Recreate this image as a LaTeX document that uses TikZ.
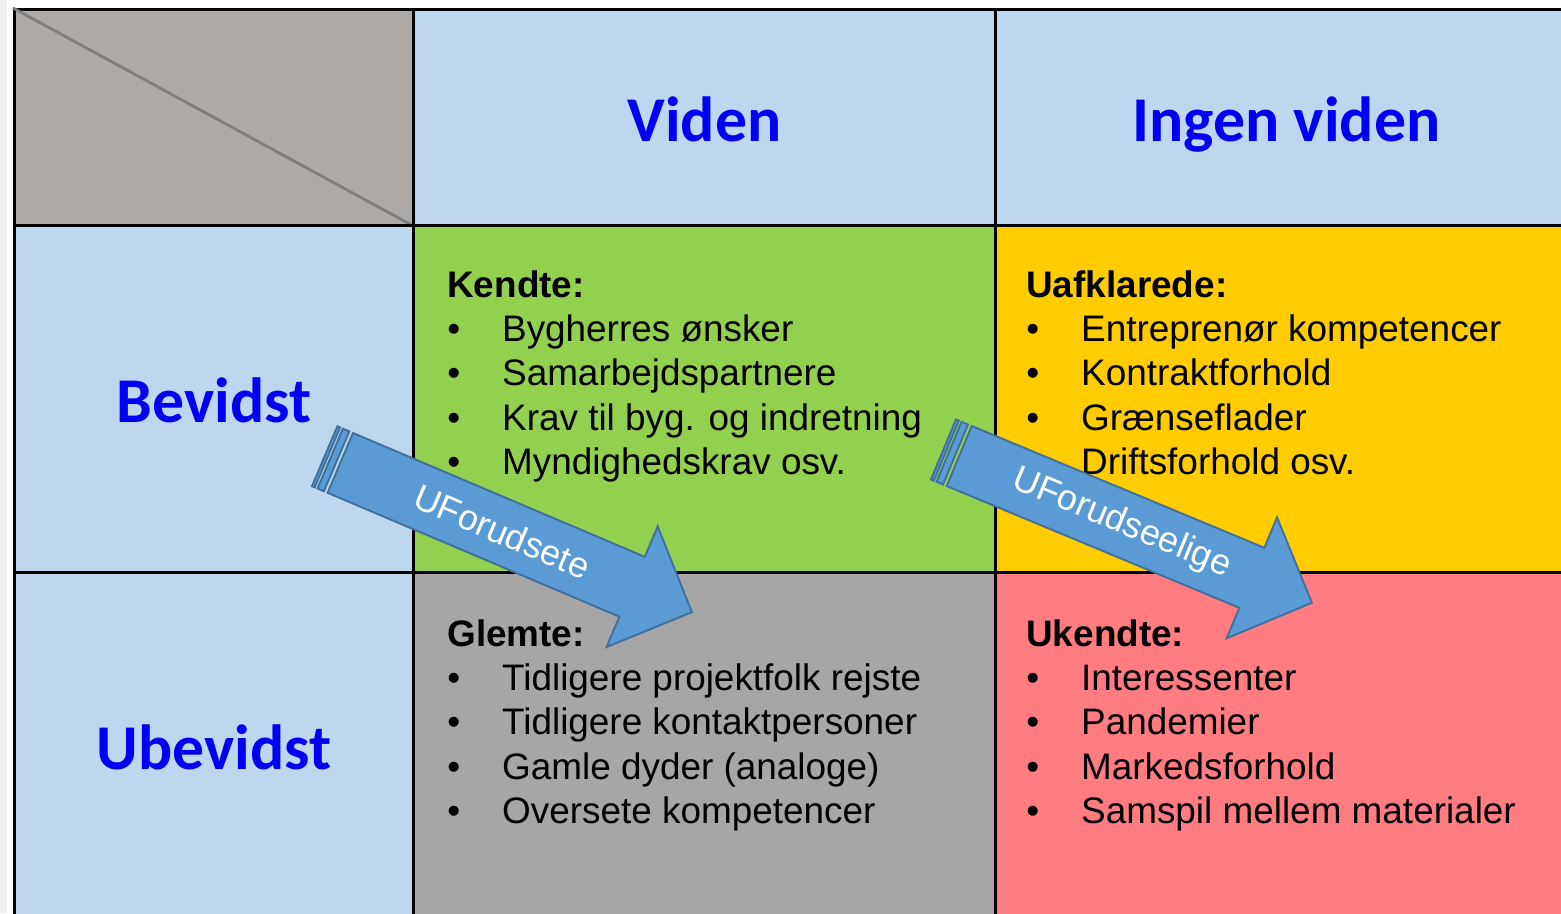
\documentclass[tikz,border=0pt]{standalone}
\usepackage{fontspec}
\setmainfont{Liberation Sans}
\newfontfamily\headfont{Carlito}
\definecolor{hdrblue}{HTML}{BDD7EE}
\definecolor{cornergray}{HTML}{ADA9A6}
\definecolor{diaggray}{HTML}{7F7F7F}
\definecolor{kendtegreen}{HTML}{92D050}
\definecolor{uafyellow}{HTML}{FFCC00}
\definecolor{glemtegray}{HTML}{A6A6A6}
\definecolor{ukendtered}{HTML}{FF7C80}
\definecolor{headblue}{HTML}{0000F5}
\definecolor{arrowfill}{HTML}{5B9BD5}
\definecolor{arrowline}{HTML}{41719C}
\tikzstyle{cell}=[draw=black,line width=1.6pt,anchor=north west,inner sep=0pt,minimum width=11.64cm,minimum height=6.94cm]
\tikzstyle{head}=[font=\headfont\bfseries\fontsize{36.3}{40}\selectfont,text=headblue,text height=32.7pt,text depth=5.4pt]
\tikzstyle{list}=[anchor=north west,inner sep=0pt,font=\fontsize{21}{25.2}\selectfont]
\tikzstyle{pil}=[fill=arrowfill,draw=arrowline,line width=1.1pt,line join=miter]
\tikzstyle{piltext}=[text=white,font=\fontsize{20.4}{24}\selectfont]

\begin{document}
\begin{tikzpicture}[x=0.02cm,y=-0.02cm]
  \useasboundingbox (0,0) rectangle (1561,913);
  \fill[white] (0,0) rectangle (1561,913);
  \fill[black!6] (0,0) rectangle (7,913);
  \clip (0,0) rectangle (1561,913);
  % header row
  \node[cell,fill=cornergray,minimum width=7.98cm,minimum height=4.32cm] (corner) at (13,8) {};
  \draw[diaggray,line width=1.6pt] (corner.north west) -- (corner.south east);
  \node[cell,head,fill=hdrblue,minimum height=4.32cm] (viden) at (412,8) {Viden};
  \node[cell,head,fill=hdrblue,minimum height=4.32cm] (ingen) at (994,8) {Ingen viden};
  % left column
  \node[cell,head,fill=hdrblue,minimum width=7.98cm] (bevidst) at (13,224) {Bevidst};
  \node[cell,head,fill=hdrblue,minimum width=7.98cm] (ubevidst) at (13,571) {Ubevidst};
  % quadrants
  \node[cell,fill=kendtegreen] (kendte) at (412,224) {};
  \node[cell,fill=uafyellow] (uafklarede) at (994,224) {};
  \node[cell,fill=glemtegray] (glemte) at (412,571) {};
  \node[cell,fill=ukendtered] (ukendte) at (994,571) {};

  \node[list] (kendteTxt) at ([xshift=0.7cm,yshift=-0.84cm]kendte.north west) {%
    \begin{tabular}{@{}p{31.2pt}@{}l@{}}
      \multicolumn{2}{@{}l}{\textbf{Kendte:}}\\
      \textbullet & Bygherres ønsker\\
      \textbullet & Samarbejdspartnere\\
      \textbullet & Krav til byg. og indretning\\
      \textbullet & Myndighedskrav osv.
    \end{tabular}};
  \node[list] (uafklaredeTxt) at ([xshift=0.64cm,yshift=-0.84cm]uafklarede.north west) {%
    \begin{tabular}{@{}p{31.2pt}@{}l@{}}
      \multicolumn{2}{@{}l}{\textbf{Uafklarede:}}\\
      \textbullet & Entreprenør kompetencer\\
      \textbullet & Kontraktforhold\\
      \textbullet & Grænseflader\\
      \textbullet & Driftsforhold osv.
    \end{tabular}};
  \node[list] (glemteTxt) at ([xshift=0.7cm,yshift=-0.88cm]glemte.north west) {%
    \begin{tabular}{@{}p{31.2pt}@{}l@{}}
      \multicolumn{2}{@{}l}{\textbf{Glemte:}}\\
      \textbullet & Tidligere projektfolk rejste\\
      \textbullet & Tidligere kontaktpersoner\\
      \textbullet & Gamle dyder (analoge)\\
      \textbullet & Oversete kompetencer
    \end{tabular}};
  \node[list] (ukendteTxt) at ([xshift=0.64cm,yshift=-0.88cm]ukendte.north west) {%
    \begin{tabular}{@{}p{31.2pt}@{}l@{}}
      \multicolumn{2}{@{}l}{\textbf{Ukendte:}}\\
      \textbullet & Interessenter\\
      \textbullet & Pandemier\\
      \textbullet & Markedsforhold\\
      \textbullet & Samspil mellem materialer
    \end{tabular}};

  % striped arrows
  \foreach \nm/\px/\py/\ang/\txt in {forudsete/340.3/462.9/-23/UForudsete,
                                     forudseelige/959.2/456/-22.6/UForudseelige} {
    \begin{scope}[shift={(\px,\py)},rotate=\ang]
      \draw[pil] (-17,-32.5) rectangle (-14,32.5);
      \draw[pil] (-11,-32.5) rectangle (-4,32.5);
      \draw[pil] (0,-32.5) -- (317,-32.5) -- (317,-65.5) -- (382,0)
                 -- (317,65.5) -- (317,32.5) -- (0,32.5) -- cycle;
      \node[piltext,rotate=\ang] (\nm) at (176,0) {\txt};
    \end{scope}
  }
\end{tikzpicture}
\end{document}
